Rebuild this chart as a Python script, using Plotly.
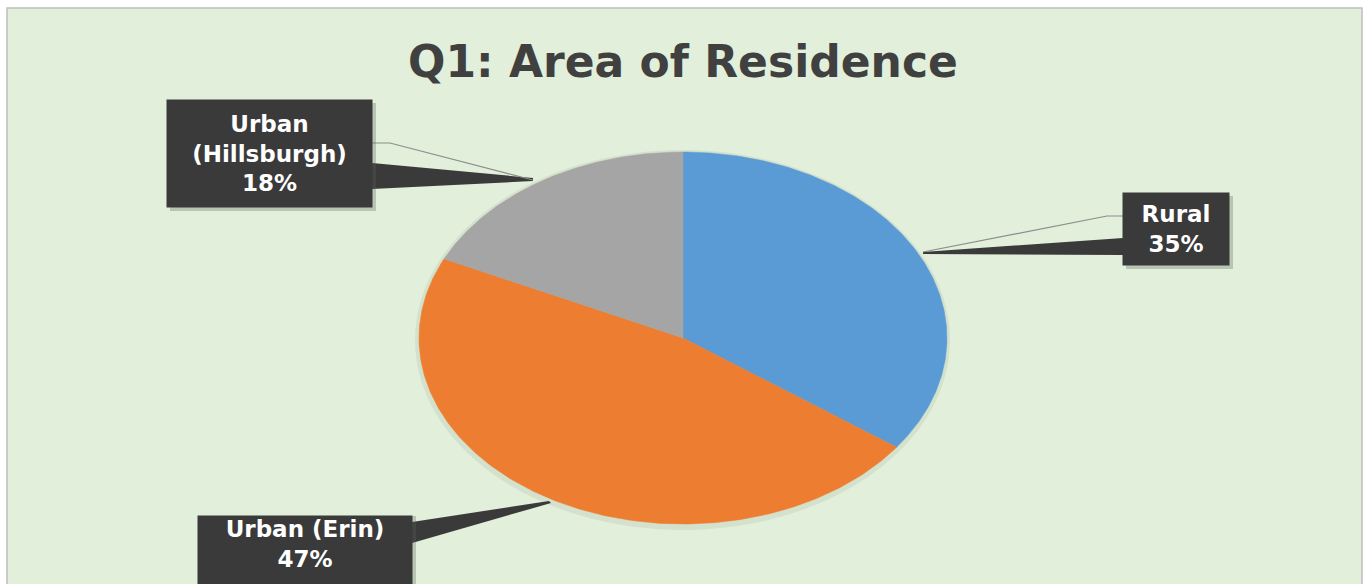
import numpy as np
import plotly.graph_objects as go

# ---- data ----
categories = ["Rural", "Urban (Erin)", "Urban (Hillsburgh)"]
values = [35, 47, 18]
colors = ["#5B9BD5", "#ED7D31", "#A5A5A5"]
label_texts = ["Rural", "Urban (Erin)", "Urban<br>(Hillsburgh)"]
title_text = "Q1: Area of Residence"

# ---- layout geometry (pixel space) ----
W, H = 1367, 584
cx, cy, rx, ry = 683, 338, 264, 186

fig = go.Figure()

total = sum(values)
start = 0.0
for cat, v, col in zip(categories, values, colors):
    a0 = start / total * 2 * np.pi
    a1 = (start + v) / total * 2 * np.pi
    t = np.linspace(a0, a1, 200)
    xs = np.concatenate([[cx], cx + rx * np.sin(t), [cx]])
    ys = np.concatenate([[cy], cy - ry * np.cos(t), [cy]])
    fig.add_trace(go.Scatter(x=xs, y=ys, fill="toself", fillcolor=col, mode="lines",
                             line=dict(color=col, width=0.5), name=cat, hoverinfo="name",
                             showlegend=False))
    start += v

pct = [f"{round(v / total * 100)}%" for v in values]

shapes = []
# chart frame
shapes.append(dict(type="rect", xref="x", yref="y", x0=7, y0=8, x1=1362, y1=600,
                   fillcolor="#E2EFDA", line=dict(color="#BFBFBF", width=1.5), layer="below"))
# pie soft shadow
shapes.append(dict(type="circle", xref="x", yref="y", x0=cx - rx - 4, y0=cy - ry - 2,
                   x1=cx + rx + 3, y1=cy + ry + 6, fillcolor="rgba(185,200,180,0.35)",
                   line=dict(width=0), layer="below"))

dark = "#3A3A3A"
# callout wedges
wedges = [
    "M 372 163 L 533 178 L 533 181 L 372 189 Z",      # Hillsburgh
    "M 1123 238 L 923 252 L 923 254 L 1123 255 Z",    # Rural
    "M 412 522 L 549 501 L 551 503 L 412 543 Z",      # Erin
]
for p in wedges:
    shapes.append(dict(type="path", xref="x", yref="y", path=p, fillcolor=dark,
                       line=dict(width=0)))
# thin leader lines
leaders = [
    "M 372 143 L 390 143 L 533 180",
    "M 1123 216 L 1107 216 L 923 252",
]
for p in leaders:
    shapes.append(dict(type="path", xref="x", yref="y", path=p,
                       line=dict(color="#8C8C8C", width=1.2)))

# box shadows
boxes = {
    "Urban (Hillsburgh)": (167, 100, 372, 207),
    "Rural": (1123, 193, 1229, 265),
    "Urban (Erin)": (198, 513, 412, 595),
}
for (x0, y0, x1, y1) in boxes.values():
    shapes.append(dict(type="rect", xref="x", yref="y", x0=x0 + 3, y0=y0 + 3, x1=x1 + 4, y1=y1 + 4,
                       fillcolor="rgba(90,100,90,0.30)", line=dict(width=0)))

annotations = []
for cat, lt, pc in zip(categories, label_texts, pct):
    x0, y0, x1, y1 = boxes[cat]
    ann = dict(
        x=(x0 + x1) / 2, y=(y0 + y1) / 2, xref="x", yref="y",
        text=f"<b>{lt}<br>{pc}</b>", showarrow=False,
        width=x1 - x0, height=y1 - y0, bgcolor=dark, borderpad=0,
        font=dict(family="DejaVu Sans", size=23, color="white"),
        align="center", valign="middle", xanchor="center", yanchor="middle")
    if cat == "Urban (Erin)":
        ann.update(valign="top", height=y1 - y0 - 6)
    annotations.append(ann)

annotations.append(dict(x=683, y=61, xref="x", yref="y", text=f"<b>{title_text}</b>",
                        showarrow=False, font=dict(family="DejaVu Sans", size=44, color="#404040"),
                        xanchor="center", yanchor="middle"))

fig.update_layout(
    width=W, height=H, margin=dict(l=0, r=0, t=0, b=0),
    paper_bgcolor="white", plot_bgcolor="rgba(0,0,0,0)",
    xaxis=dict(range=[0, W], visible=False, fixedrange=True),
    yaxis=dict(range=[H, 0], visible=False, fixedrange=True),
    shapes=shapes, annotations=annotations, showlegend=False,
)

fig.write_html("out.html", config={"displayModeBar": False},
               post_script="document.body.style.margin='0';document.body.style.overflow='hidden';")
